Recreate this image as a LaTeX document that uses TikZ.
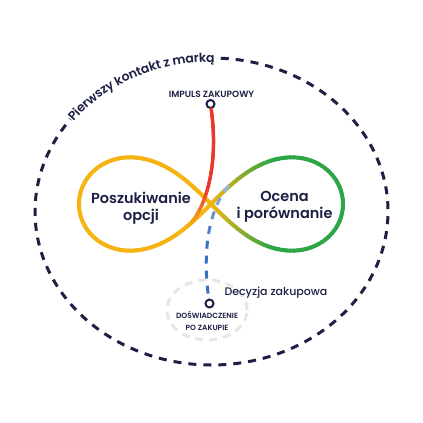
\documentclass[tikz,border=0pt]{standalone}
\usepackage{fontspec}
\setmainfont{Poppins}[UprightFont={* Medium}, BoldFont={* SemiBold}]
\usepackage{tikz}
\usetikzlibrary{decorations.markings, decorations.text, positioning}
\definecolor{inknavy}{HTML}{1D2045}
\definecolor{loopyellow}{HTML}{F5B40F}
\definecolor{loopgreen}{HTML}{2FA646}
\definecolor{impulsred}{HTML}{E8392A}
\definecolor{decisionblue}{HTML}{3A71BF}
\definecolor{decisionlight}{HTML}{A9CDE6}
\definecolor{aftergray}{HTML}{E6E6E6}

\tikzset{
  stage/.style={inknavy, font=\bfseries\fontsize{14.5}{17}\selectfont, align=center},
  pointlabel/.style={inknavy, font=\bfseries\fontsize{7.5}{12}\selectfont, align=center},
  ring/.style={circle, draw=inknavy, fill=white, line width=2pt, minimum size=8pt, inner sep=0pt},
  contactdash/.style={inknavy, line width=3pt, dash pattern=on 8pt off 7pt},
  impulsline/.style={decorate, decoration={markings,
    mark=between positions 0 and 1 step 0.4pt with {
      \pgfmathsetmacro\rp{min(100,286*(1-\pgfkeysvalueof{/pgf/decoration/mark info/distance from start}/\pgfdecoratedpathlength))}
      \fill[impulsred!\rp!loopyellow] (0,0) circle (1.75pt);}}},
  decisionline/.style={decorate, decoration={markings,
    mark=between positions 9pt and -3pt step 15pt with {
      \pgfmathsetmacro\bp{min(100,170*(1-\pgfkeysvalueof{/pgf/decoration/mark info/distance from start}/\pgfdecoratedpathlength))}
      \draw[decisionblue!\bp!decisionlight, line width=3pt] (-4pt,0) -- (4pt,0);}}}
}

\begin{document}
\begin{tikzpicture}[x=1pt, y=-1pt]
  % Canvas
  \useasboundingbox (0,0) rectangle (423,423);
  \fill[white] (0,0) rectangle (423,423);

  % First contact ring with its label on the arc
  \draw[contactdash] (211.5,211.5) ++(273:176.5 and 153.5)
    arc[start angle=273, end angle=577, x radius=176.5, y radius=153.5];
  \path[decorate, decoration={text along path, text align=center, raise=-4pt, text color=inknavy,
      text={|\bfseries\fontsize{12.5}{12.5}\selectfont|Pierwszy kontakt z marką}}]
    (211.5,211.5) ++(216:176.5 and 153.5)
    arc[start angle=216, end angle=272, x radius=176.5, y radius=153.5];

  % Post-purchase ring
  \draw[aftergray, line width=3pt, dash pattern=on 8pt off 6pt] (207,310) ellipse [x radius=40pt, y radius=30pt];

  % Infinity loop, yellow to green
  \foreach \t in {0,2,...,358}{
    \pgfmathsetmacro\gp{cos(\t)>0 ? min(100,222*cos(\t)/(1+sin(\t)^2)) : 0}
    \draw[loopgreen!\gp!loopyellow, line width=4pt, line cap=round]
      ({211+132*cos(\t)/(1+sin(\t)^2)}, {204+132*sin(\t)*cos(\t)/(1+sin(\t)^2)}) --
      ({211+132*cos(\t+2)/(1+sin(\t+2)^2)}, {204+132*sin(\t+2)*cos(\t+2)/(1+sin(\t+2)^2)});
  }

  % Stages
  \node[stage] (szukanie) at (141,208.5) {Poszukiwanie\\opcji};
  \node[stage] (ocena) at (284.5,207) {Ocena\\i porównanie};

  % Purchase impulse
  \node[ring] (impuls) at (210.5,104) {};
  \node[pointlabel, font=\bfseries\fontsize{9}{12}\selectfont] (impulslabel) at (211.5,94.5) {IMPULS ZAKUPOWY};
  \coordinate (merge) at (187,226.5);
  \path[impulsline] (impuls) .. controls (220,172) and (202,215) .. (merge);

  % Purchase decision
  \node[ring] (doswiad) at (209.5,303.5) {};
  \coordinate (decyzjatop) at (237,177);
  \path[decisionline] (doswiad) .. controls (203,258) and (205,205) .. (decyzjatop);
  \node[pointlabel] (doswiadlabel) at (207,321) {DOŚWIADCZENIE\\PO ZAKUPIE};
  \node[inknavy, font=\fontsize{11}{12}\selectfont, anchor=west] (decyzja) at (221,293) {Decyzja zakupowa};
\end{tikzpicture}
\end{document}
